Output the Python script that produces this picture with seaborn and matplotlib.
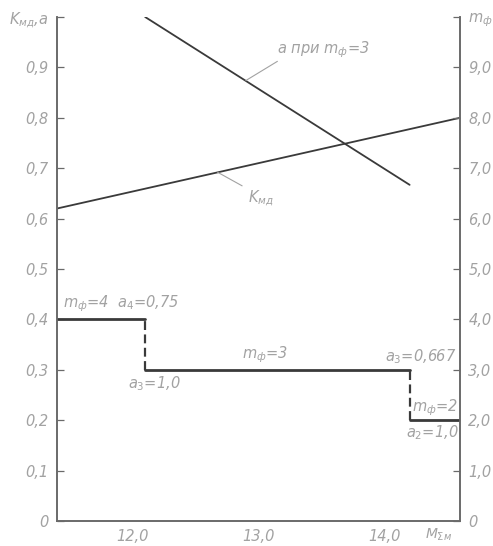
import numpy as np
import pandas as pd
import matplotlib
matplotlib.use("Agg")
import matplotlib.pyplot as plt
import seaborn as sns

# ---- data ----
m_sw_x = [11.4, 12.1, 14.2, 14.6]      # switching points of m_f (M_Σм)
m_f = [4, 3, 2, 2]                     # number of phases
k_x = [11.4, 14.6]
k_md = [0.62, 0.80]                    # K_мд
a_x = [12.1, 14.2]
a_m3 = [1.0, 0.667]                    # a при m_ф = 3

x_ticks = [12.0, 13.0, 14.0]
x_tick_labels = ["12,0", "13,0", "14,0"]
left_ticks = [0, 0.1, 0.2, 0.3, 0.4, 0.5, 0.6, 0.7, 0.8, 0.9, 1.0]
left_labels = ["0", "0,1", "0,2", "0,3", "0,4", "0,5", "0,6", "0,7", "0,8", "0,9", "$K_{мд}$,a"]
right_ticks = [0, 1, 2, 3, 4, 5, 6, 7, 8, 9, 10]
right_labels = ["0", "1,0", "2,0", "3,0", "4,0", "5,0", "6,0", "7,0", "8,0", "9,0", "$m_{ф}$"]

sns.set_style("white")
plt.rcParams["font.family"] = ["DejaVu Sans"]
plt.rcParams["mathtext.fontset"] = "dejavusans"

TXT = "#a2a2a2"
LINE = "#3a3a3a"
SP = "#6a6a6a"

fig = plt.figure(figsize=(4.93, 5.46), dpi=100)
ax = fig.add_axes([57/493, 1-521/546, (460-57)/493, (521-17)/546])
ax2 = ax.twinx()

df_k = pd.DataFrame({"M": k_x, "K": k_md})
df_a = pd.DataFrame({"M": a_x, "a": a_m3})
sns.lineplot(data=df_k, x="M", y="K", ax=ax, color=LINE, lw=1.3)
sns.lineplot(data=df_a, x="M", y="a", ax=ax, color=LINE, lw=1.3)

# horizontal steps
for i in range(len(m_sw_x) - 1):
    seg = pd.DataFrame({"M": [m_sw_x[i], m_sw_x[i + 1]], "m": [m_f[i], m_f[i]]})
    sns.lineplot(data=seg, x="M", y="m", ax=ax2, color=LINE, lw=2.0)
# vertical drops (dashed)
for i in range(1, len(m_sw_x) - 1):
    ax2.vlines(m_sw_x[i], m_f[i], m_f[i - 1], color=LINE, lw=1.6, ls=(0, (4, 2)))

ax.set_xlim(11.4, 14.6)
ax.set_ylim(0, 1.0)
ax2.set_ylim(0, 10)

ax.set_xticks(x_ticks)
ax.set_xticklabels(x_tick_labels)
ax.set_yticks(left_ticks)
ax.set_yticklabels(left_labels)
ax2.set_yticks(right_ticks)
ax2.set_yticklabels(right_labels)

for a in (ax, ax2):
    a.set_xlabel("")
    a.set_ylabel("")
    a.spines["top"].set_visible(False)
    for s in ("left", "right", "bottom"):
        a.spines[s].set_color(SP)
        a.spines[s].set_linewidth(1.2)
    a.tick_params(direction="in", length=5, width=0.9, color=SP,
                  labelcolor=TXT, labelsize=10.5, pad=6)
    for t in a.get_xticklabels() + a.get_yticklabels():
        t.set_fontstyle("italic")

tk = dict(color=TXT, fontsize=10.5, fontstyle="italic")
ax.text(14.43, -0.012, "$M_{Σм}$", ha="center", va="top",
        color=TXT, fontsize=10, fontstyle="italic")

# annotations with leader lines
ax.text(13.15, 0.915, "a при $m_{ф}$=3", ha="left", va="bottom", **tk)
ax.plot([13.15, 12.9], [0.912, 0.874], color=TXT, lw=0.8)
ax.text(12.92, 0.66, "$K_{мд}$", ha="left", va="top", **tk)
ax.plot([12.675, 12.87], [0.692, 0.665], color=TXT, lw=0.8)

ax.text(11.45, 0.41, "$m_{ф}$=4  $a_4$=0,75", ha="left", va="bottom", **tk)
ax.text(12.17, 0.292, "$a_3$=1,0", ha="center", va="top", **tk)
ax.text(13.05, 0.31, "$m_{ф}$=3", ha="center", va="bottom", **tk)
ax.text(14.29, 0.307, "$a_3$=0,667", ha="center", va="bottom", **tk)
ax.text(14.4, 0.205, "$m_{ф}$=2", ha="center", va="bottom", **tk)
ax.text(14.38, 0.193, "$a_2$=1,0", ha="center", va="top", **tk)

fig.savefig("out.png", dpi=100, facecolor="white")
